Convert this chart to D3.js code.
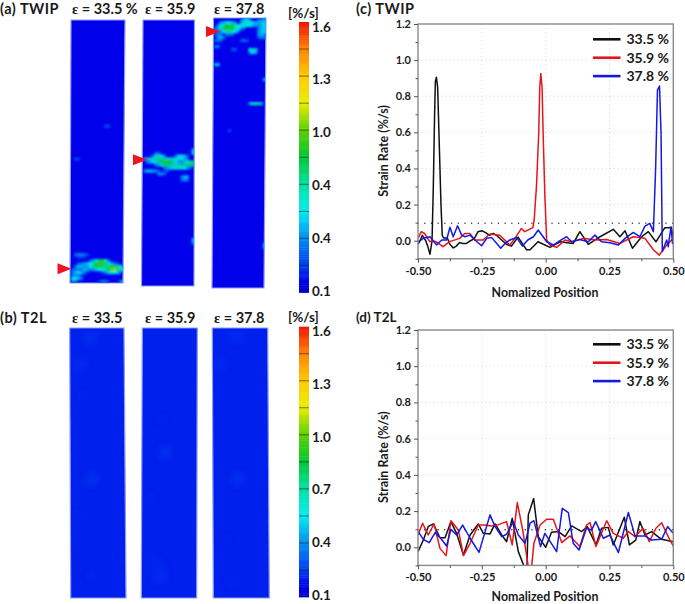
<!DOCTYPE html>
<html>
<head>
<meta charset="utf-8">
<script src="https://cdnjs.cloudflare.com/ajax/libs/d3/7.8.5/d3.min.js"></script>
<style>
  body { margin: 0; background: #fff; }
  text { font-family: Lato, sans-serif; font-weight: 700; fill: #1a1a1a; }
</style>
</head>
<body>
<div id="chart"></div>
<script>
// strain levels, legend and axis labels
const strainLevels = ['33.5 %', '35.9 %', '37.8 %'];
const seriesColors = ['#101010', '#e8141c', '#1418e0'];
const twipHeaders = ['33.5 %', '35.9', '37.8'];
const t2lHeaders = ['33.5', '35.9', '37.8'];
const colorbarTicks = [0.1, 0.4, 0.7, 1.0, 1.3, 1.6];
const twipBarLabels = ['0.1', '0.4', '0.4', '1.0', '1.3', '1.6'];
const t2lBarLabels = ['0.1', '0.4', '0.7', '1.0', '1.3', '1.6'];
const xMajor = [-0.5, -0.25, 0, 0.25, 0.5];
const xMajorLabels = ['-0.50', '-0.25', '0.00', '0.25', '0.50'];
const xMinor = [-0.375, -0.125, 0.125, 0.375];
const yMajor = [0, 0.2, 0.4, 0.6, 0.8, 1.0, 1.2];
const yMajorLabels = ['0.0', '0.2', '0.4', '0.6', '0.8', '1.0', '1.2'];
const yMinor = [-0.1, 0.1, 0.3, 0.5, 0.7, 0.9, 1.1];
const thresholdRate = 0.097;

// colour map stops of the strain rate bar
const colorStopValues = [0.1, 0.15, 0.25, 0.4, 0.55, 0.7, 0.85, 1.0, 1.15, 1.3, 1.45, 1.6];
const colorStopColors = ['#0000c4', '#0000ea', '#0040f0', '#0090f0', '#00eef0', '#00e0a0', '#00c830', '#60d000', '#e8f000', '#ffc800', '#ff8000', '#f01000'];

// (c) TWIP strain rate profiles, [position, rate]
const twipProfile335 = [[-0.5,-0.02],[-0.492,0],[-0.483,0.03],[-0.47,0],[-0.462,-0.03],[-0.453,-0.075],[-0.445,0],[-0.44,0.3],[-0.435,0.7],[-0.432,0.88],[-0.428,0.905],[-0.423,0.85],[-0.418,0.6],[-0.41,0.2],[-0.405,0.03],[-0.4,0.015],[-0.385,0.015],[-0.375,-0.02],[-0.362,-0.04],[-0.35,-0.03],[-0.337,-0.01],[-0.325,-0.015],[-0.31,-0.015],[-0.295,0],[-0.28,0.01],[-0.265,0.05],[-0.25,0.055],[-0.235,0.045],[-0.22,0.03],[-0.205,0.04],[-0.193,0.03],[-0.154,-0.02],[-0.134,-0.03],[-0.108,0.02],[-0.075,-0.05],[-0.061,-0.05],[-0.03,-0.006],[0.017,-0.037],[0.056,-0.006],[0.108,-0.015],[0.134,0.05],[0.167,-0.02],[0.213,0.022],[0.265,0.063],[0.291,0.022],[0.311,0.055],[0.34,-0.042],[0.376,0.022],[0.402,0.05],[0.432,-0.006],[0.467,0.072],[0.493,0.072],[0.5,0.004]];
const twipProfile359 = [[-0.5,0.013],[-0.487,0.05],[-0.474,0.04],[-0.454,-0.005],[-0.43,-0.005],[-0.402,-0.033],[-0.376,-0.005],[-0.337,0.013],[-0.317,0.04],[-0.297,0.04],[-0.278,0.004],[-0.245,0.004],[-0.219,0.037],[-0.18,0.03],[-0.14,-0.024],[-0.12,0.013],[-0.095,0.068],[-0.082,0.05],[-0.05,0.072],[-0.045,0.115],[-0.036,0.3],[-0.027,0.6],[-0.023,0.85],[-0.019,0.926],[-0.014,0.85],[-0.01,0.6],[-0.003,0.245],[0.004,0.004],[0.017,-0.024],[0.043,-0.037],[0.076,0.004],[0.102,-0.006],[0.148,0.013],[0.193,0.004],[0.239,0.007],[0.291,-0.015],[0.343,0.022],[0.389,0.013],[0.422,-0.05],[0.445,-0.08],[0.474,-0.024],[0.5,0.013]];
const twipProfile378 = [[-0.499,-0.006],[-0.479,0.013],[-0.453,0.022],[-0.427,-0.024],[-0.407,0.004],[-0.388,0.004],[-0.375,0.074],[-0.362,0.022],[-0.345,0.083],[-0.329,0.031],[-0.316,0.022],[-0.296,0.031],[-0.277,0.004],[-0.251,-0.028],[-0.231,0.013],[-0.211,0.017],[-0.176,-0.042],[-0.159,-0.015],[-0.14,0.004],[-0.114,0.018],[-0.091,-0.03],[-0.07,0.004],[-0.048,0.022],[-0.029,0.059],[0.004,-0.006],[0.03,-0.024],[0.056,0],[0.082,0.022],[0.102,-0.006],[0.134,0.007],[0.167,-0.006],[0.193,0.031],[0.219,-0.006],[0.252,-0.011],[0.285,-0.024],[0.311,0.013],[0.343,0.046],[0.369,0.022],[0.389,0.081],[0.408,0.096],[0.422,0.05],[0.431,0.41],[0.438,0.834],[0.446,0.856],[0.452,0.594],[0.457,-0.06],[0.474,0.004],[0.48,-0.033],[0.491,0.077],[0.497,-0.015],[0.5,0.04]];

// (d) T2L strain rate profiles, [position, rate]
const t2lProfile335 = [[-0.5,-0.024],[-0.479,0.04],[-0.46,0.114],[-0.44,0.129],[-0.414,0.053],[-0.394,0.053],[-0.371,0.142],[-0.349,0.077],[-0.322,-0.042],[-0.296,0.068],[-0.264,0.129],[-0.244,0.077],[-0.218,0.074],[-0.198,0.129],[-0.172,0.068],[-0.153,0.031],[-0.131,0.16],[-0.107,-0.024],[-0.084,-0.107],[-0.074,-0.16],[-0.068,0.179],[-0.047,0.269],[-0.029,0.059],[0,0],[0.023,0.083],[0.05,0.087],[0.076,0.059],[0.102,0.118],[0.141,0.087],[0.163,0.114],[0.197,0.013],[0.219,0.105],[0.245,0.11],[0.265,0.013],[0.308,0.166],[0.328,0.013],[0.353,0.04],[0.369,0.142],[0.389,0.068],[0.415,0.087],[0.454,0.044],[0.5,0.031]];
const t2lProfile359 = [[-0.5,0.068],[-0.482,0.133],[-0.46,0.068],[-0.437,0.129],[-0.414,-0.006],[-0.39,-0.046],[-0.371,0.147],[-0.342,0.096],[-0.322,-0.046],[-0.296,0.022],[-0.264,0.123],[-0.238,0.123],[-0.212,0.118],[-0.185,0.125],[-0.153,0.142],[-0.131,0.013],[-0.111,0.247],[-0.09,0.096],[-0.068,-0.107],[-0.061,-0.2],[-0.055,-0.107],[-0.046,0.022],[-0.022,0.123],[0.004,0.155],[0.03,0.155],[0.063,0.026],[0.095,0.063],[0.134,0.004],[0.16,0.123],[0.174,0.136],[0.197,0.004],[0.239,0.147],[0.265,0.077],[0.304,0.05],[0.324,0.087],[0.35,0.059],[0.382,0.105],[0.406,0.031],[0.432,0.105],[0.454,0.136],[0.48,0.059],[0.5,0.007]];
const t2lProfile378 = [[-0.5,0.087],[-0.479,0.044],[-0.456,0.026],[-0.433,0.081],[-0.411,0.05],[-0.388,0.007],[-0.371,0.099],[-0.349,0.068],[-0.325,0.123],[-0.296,0.05],[-0.261,-0.028],[-0.218,0.179],[-0.198,0.114],[-0.172,0.059],[-0.153,0.072],[-0.127,0.142],[-0.107,0.068],[-0.081,0.022],[-0.061,0.133],[-0.046,0.147],[-0.02,0.004],[-0.003,0.077],[0.043,-0.024],[0.065,0.215],[0.089,0.192],[0.108,0.022],[0.131,-0.015],[0.16,0.105],[0.18,0.096],[0.196,0.142],[0.226,0.05],[0.252,0.068],[0.285,-0.029],[0.324,0.192],[0.35,0.063],[0.389,0.063],[0.415,0.04],[0.454,0.044],[0.478,0.114],[0.5,0.077]];

// strain rate maps: each entry is [row, first column, rate, rate, ...] on an 18 column grid
const twipMap335 = [
  [35,11,0.26,0.27],[46,1,0.26,0.24],
  [78,1,0.32,0.38,0.38,0.32,0.26],[79,2,0.22,0.22,0.22],
  [80,6,0.28,0.42,0.6,0.78,0.78,0.6,0.35],
  [81,2,0.28,0.35,0.42,0.48,0.58,0.72,0.82,0.92,0.92,0.8,0.66,0.48,0.36,0.24],
  [82,1,0.34,0.46,0.46,0.4,0.42,0.6,0.76,0.88,0.9,0.8,0.72,0.74,0.8,0.82,0.72,0.54,0.36],
  [83,0,0.28,0.34,0.34,0.34,0.46,0.42,0.36,0.42,0.48,0.54,0.6,0.68,0.86,1.0,1.04,0.92,0.74,0.6],
  [84,0,0.34,0.46,0.52,0.46,0.34,0.22],[84,10,0.24,0.36,0.48,0.6,0.6,0.48,0.3],
  [85,0,0.34,0.4,0.34,0.22],[86,0,0.52,0.58,0.46,0.34],
  [87,0,0.36,0.34],[87,9,0.24,0.34,0.34,0.24],[87,16,0.36,0.52]
];
const twipMap359 = [
  [43,17,0.5],[44,4,0.3,0.3],[44,17,0.55],
  [45,3,0.36,0.58,0.64,0.54,0.36],[45,11,0.36,0.58,0.6,0.48,0.3],
  [46,0,0.4,0.46,0.52,0.64,0.7,0.72,0.72,0.66,0.64,0.6,0.6,0.6,0.54,0.54,0.46,0.36],
  [47,1,0.34,0.42,0.54,0.6,0.72,0.82,0.88,0.9,0.84,0.72,0.54,0.42,0.36,0.48,0.6,0.66,0.72],
  [48,4,0.36,0.42,0.6,0.76,0.76,0.72,0.66,0.66,0.66,0.72,0.76,0.76,0.76,0.72],
  [49,7,0.36,0.42,0.48,0.54,0.6,0.6,0.6,0.54,0.42,0.3],
  [50,0,0.36,0.46,0.48,0.46,0.4,0.3],[50,7,0.24,0.3],[51,5,0.4,0.4,0.3],
  [52,13,0.36,0.48,0.46],[53,13,0.3,0.4,0.34],[73,17,0.5],[74,17,0.45]
];
const twipMap378 = [
  [0,9,0.3,0.46,0.52,0.4],[0,15,0.3,0.36,0.46],
  [1,2,0.4,0.46,0.54,0.54,0.46,0.36],[1,9,0.42,0.58,0.64,0.58,0.52,0.46,0.46,0.46,0.52],
  [2,1,0.4,0.58,0.74,0.84,0.88,0.82,0.66,0.6,0.6,0.6,0.6,0.54,0.46,0.4,0.4,0.46,0.58],
  [3,0,0.36,0.42,0.58,0.78,0.88,0.9,0.84,0.66,0.54,0.42,0.3],[3,15,0.36,0.46,0.52],
  [4,1,0.36,0.36,0.54,0.66,0.72,0.66,0.54,0.36],[4,15,0.42,0.46,0.52],
  [5,0,0.3,0.36,0.4],[5,4,0.36,0.36,0.3],[5,15,0.42,0.46,0.4],
  [6,1,0.4,0.46,0.36],[6,15,0.3,0.36,0.36],[7,0,0.3,0.34,0.34],[7,9,0.28,0.34,0.28],
  [9,0,0.34,0.4],[10,6,0.28,0.28],[10,12,0.55,0.72,0.5],[11,12,0.4,0.56,0.44],
  [15,0,0.45,0.5],[20,17,0.5],[28,12,0.44,0.6,0.66,0.66,0.44],[37,5,0.26],[75,17,0.5],[76,17,0.45]
];
const t2lMap335 = [
  [2,5,0.22,0.235,0.235,0.22],[3,5,0.225,0.24,0.24,0.225],[4,5,0.22,0.225,0.225],
  [11,2,0.23,0.245,0.23],[12,2,0.235,0.245,0.23],[13,2,0.23,0.23],[22,3,0.225,0.225],
  [49,6,0.24,0.26,0.24],[50,6,0.24,0.265,0.24],[51,6,0.235,0.245],[62,2,0.225,0.225],[82,6,0.225,0.225,0.225]
];
const t2lMap359 = [
  [30,5,0.22,0.22],[40,6,0.23,0.245,0.23],[41,6,0.245,0.265,0.245],[42,6,0.23,0.245,0.23],
  [56,2,0.225,0.225],[76,2,0.23,0.23,0.23],[79,3,0.23,0.24,0.24,0.23],[82,4,0.23,0.245,0.245,0.23],[83,4,0.23,0.24,0.23]
];
const t2lMap378 = [
  [2,6,0.22,0.235,0.235,0.22],[3,6,0.225,0.24,0.24,0.225],[11,1,0.23,0.245,0.235],[12,1,0.235,0.245,0.23],
  [49,7,0.24,0.26,0.24],[50,7,0.24,0.265,0.24],[51,7,0.235,0.245],[70,3,0.225,0.225],[84,5,0.225,0.23,0.225]
];

// row of the arrow marking the localised band in each TWIP map
const twipBandRows = [83.2, 46.8, 4.5];

const plotX = [418, 673.3];
const legendOffsets = [0, 18.4, 36.8];
const arrowTipX = [71.5, 147, 220];

const svg = d3.select('#chart').append('svg').attr('width', 685).attr('height', 604).style('display', 'block');
const defs = svg.append('defs');
const rateColor = d3.scaleLinear().domain(colorStopValues).range(colorStopColors);

defs.append('filter').attr('id', 'hotBlur').attr('x', '-10%').attr('y', '-10%').attr('width', '120%').attr('height', '120%')
  .append('feGaussianBlur').attr('stdDeviation', 1.3);
defs.append('filter').attr('id', 'softBlur').attr('x', '-10%').attr('y', '-10%').attr('width', '120%').attr('height', '120%')
  .append('feGaussianBlur').attr('stdDeviation', 4);

function addText(x, y, str, size, anchor) {
  return svg.append('text').attr('x', x).attr('y', y).attr('text-anchor', anchor || 'start')
    .attr('font-size', size).text(str);
}

// one strain rate map: base colour plus the non background cells
function drawMap(id, runs, box, baseRate, blurId) {
  const rows = box.rows;
  const xCell = d3.scaleLinear().domain([0, 18]).range([box.x0, box.x1]);
  const yCell = d3.scaleLinear().domain([0, rows]).range([box.top, box.bottom]);
  const outline = [[box.x0, box.top], [box.x1, box.top], [box.x1b, box.bottom], [box.x0b, box.bottom]];
  const pathStr = d3.line()(outline) + 'Z';

  defs.append('clipPath').attr('id', id).append('path').attr('d', pathStr);

  svg.append('path').attr('d', pathStr).attr('fill', rateColor(baseRate))
    .attr('stroke', '#8c9cf4').attr('stroke-width', 1.2);

  const cells = [];
  runs.forEach(function (run) {
    run.slice(2).forEach(function (rate, i) {
      cells.push({ col: run[1] + i, row: run[0], rate: rate });
    });
  });

  svg.append('g').attr('clip-path', `url(#${id})`)
    .append('g').attr('filter', `url(#${blurId})`)
    .selectAll('rect')
    .data(cells)
    .enter()
    .append('rect')
    .attr('x', (d) => xCell(d.col))
    .attr('y', (d) => yCell(d.row))
    .attr('width', xCell(1) - xCell(0) + 0.2)
    .attr('height', yCell(1) - yCell(0) + 0.2)
    .attr('fill', (d) => rateColor(d.rate));

  return yCell;
}

function drawColorbar(top, bottom, labels) {
  const yBar = d3.scaleLinear().domain([0.1, 1.6]).range([bottom, top]);
  // the printed labels sit slightly inside the bar ends
  const yLabel = d3.scaleLinear().domain([0.1, 1.6]).range([bottom - 2.5, top + 4]);
  const steps = d3.range(0.1, 1.6, 0.01);
  const bar = svg.append('g');
  bar.selectAll('rect')
    .data(steps)
    .enter()
    .append('rect')
    .attr('x', 299)
    .attr('y', (d) => yBar(d + 0.01))
    .attr('width', 10)
    .attr('height', (d) => yBar(d) - yBar(d + 0.01) + 0.4)
    .attr('fill', (d) => rateColor(d));

  // dark separators every 0.15
  bar.selectAll('line')
    .data(d3.range(1, 10).map((i) => 0.1 + i * 0.15))
    .enter()
    .append('line')
    .attr('x1', 299)
    .attr('x2', 309)
    .attr('y1', (d) => yBar(d))
    .attr('y2', (d) => yBar(d))
    .attr('stroke', 'rgba(30,20,0,0.55)')
    .attr('stroke-width', 1);

  const axis = d3.axisRight(yLabel).tickValues(colorbarTicks).tickSize(0).tickPadding(0)
    .tickFormat((d, i) => labels[i]);
  const g = svg.append('g').attr('transform', 'translate(312,0)').call(axis);
  g.select('.domain').remove();
  g.attr('font-family', null).attr('font-size', null);
  g.selectAll('text').attr('font-size', 13.5).attr('x', 0).attr('dy', '0.37em');
}

function drawProfile(profiles, top, zeroY, legendY, clipId, titleGap) {
  const perUnit = (zeroY - top) / 1.2;
  const bottom = zeroY + 0.1 * perUnit;
  const x = d3.scaleLinear().domain([-0.5, 0.5]).range(plotX);
  const y = d3.scaleLinear().domain([-0.1, 1.2]).range([bottom, top]);

  // dotted grid
  const grid = svg.append('g').attr('stroke', '#d8d8d8').attr('stroke-width', 1).attr('stroke-dasharray', '1,3');
  grid.selectAll('.gx').data(xMajor.slice(1, -1)).enter().append('line')
    .attr('x1', (d) => x(d)).attr('x2', (d) => x(d)).attr('y1', top).attr('y2', bottom);
  grid.selectAll('.gy').data(yMajor.slice(0, -1)).enter().append('line')
    .attr('x1', plotX[0]).attr('x2', plotX[1]).attr('y1', (d) => y(d)).attr('y2', (d) => y(d));

  // threshold dots
  svg.append('line').attr('x1', x(-0.5)).attr('x2', x(0.5)).attr('y1', y(thresholdRate)).attr('y2', y(thresholdRate))
    .attr('stroke', '#111').attr('stroke-width', 1.3).attr('stroke-linecap', 'round').attr('stroke-dasharray', '0.1,6.6');

  defs.append('clipPath').attr('id', clipId).append('rect')
    .attr('x', plotX[0]).attr('y', top).attr('width', plotX[1] - plotX[0]).attr('height', bottom - top);

  const line = d3.line().x((d) => x(d[0])).y((d) => y(d[1]));
  const traces = svg.append('g').attr('clip-path', `url(#${clipId})`);
  profiles.forEach(function (points, i) {
    traces.append('path').datum(points).attr('d', line).attr('fill', 'none')
      .attr('stroke', seriesColors[i]).attr('stroke-width', 1.5).attr('stroke-linejoin', 'round');
  });

  // frame
  svg.append('rect').attr('x', plotX[0]).attr('y', top).attr('width', plotX[1] - plotX[0]).attr('height', bottom - top)
    .attr('fill', 'none').attr('stroke', '#8a8a8a').attr('stroke-width', 1.4);

  const xAxis = svg.append('g').attr('transform', `translate(0,${bottom})`)
    .call(d3.axisBottom(x).tickValues(xMajor).tickSize(4).tickPadding(4).tickFormat((d, i) => xMajorLabels[i]));
  const xAxisMinor = svg.append('g').attr('transform', `translate(0,${bottom})`)
    .call(d3.axisBottom(x).tickValues(xMinor).tickSize(2.5).tickFormat(''));
  const yAxis = svg.append('g').attr('transform', `translate(${plotX[0]},0)`)
    .call(d3.axisLeft(y).tickValues(yMajor).tickSize(4).tickPadding(3).tickFormat((d, i) => yMajorLabels[i]));
  const yAxisMinor = svg.append('g').attr('transform', `translate(${plotX[0]},0)`)
    .call(d3.axisLeft(y).tickValues(yMinor).tickSize(2.5).tickFormat(''));
  [xAxis, xAxisMinor, yAxis, yAxisMinor].forEach(function (g) {
    g.attr('font-family', null).attr('font-size', null);
    g.select('.domain').remove();
    g.selectAll('line').attr('stroke', '#555').attr('stroke-width', 1);
    g.selectAll('text').attr('font-size', 11);
  });

  svg.append('text').attr('transform', `translate(387.5,${(top + bottom) / 2 + 9.5}) rotate(-90)`)
    .attr('text-anchor', 'middle').attr('font-size', 12.5).text('Strain Rate (%/s)');
  addText(545, bottom + titleGap, 'Nomalized Position', 12.4, 'middle');

  strainLevels.forEach(function (label, i) {
    const ly = legendY + legendOffsets[i];
    svg.append('line').attr('x1', 593).attr('x2', 620.5).attr('y1', ly).attr('y2', ly)
      .attr('stroke', seriesColors[i]).attr('stroke-width', 2.6);
    addText(626.5, ly + 5, label, 14);
  });
}

// (a) TWIP maps
const twipBoxes = [
  { x0: 71, x1: 125, x0b: 70, x1b: 123, top: 20, bottom: 283, rows: 88 },
  { x0: 143, x1: 194.5, x0b: 141.5, x1b: 194, top: 20, bottom: 286, rows: 89 },
  { x0: 213.5, x1: 266, x0b: 212, x1b: 264, top: 18, bottom: 288, rows: 90 }
];
[twipMap335, twipMap359, twipMap378].forEach(function (runs, i) {
  const box = twipBoxes[i];
  const yCell = drawMap(`twipClip${i}`, runs, box, 0.15, 'hotBlur');
  const tipY = yCell(twipBandRows[i]);
  const tipX = arrowTipX[i];
  const arrow = d3.path();
  arrow.moveTo(tipX, tipY);
  arrow.lineTo(tipX - 14, tipY - 5.5);
  arrow.lineTo(tipX - 14, tipY + 5.5);
  arrow.closePath();
  svg.append('path').attr('d', arrow.toString()).attr('fill', '#f01420');
});

// (b) T2L maps
const t2lBoxes = [
  { x0: 69.7, x1: 124, x0b: 70.7, x1b: 126, top: 328, bottom: 598, rows: 90 },
  { x0: 142.3, x1: 197.3, x0b: 141.3, x1b: 196.7, top: 328, bottom: 598, rows: 90 },
  { x0: 212.3, x1: 267.7, x0b: 213.3, x1b: 269.3, top: 328, bottom: 598, rows: 90 }
];
[t2lMap335, t2lMap359, t2lMap378].forEach(function (runs, i) {
  drawMap(`t2lClip${i}`, runs, t2lBoxes[i], 0.2, 'softBlur');
});

drawColorbar(22, 292.5, twipBarLabels);
drawColorbar(326.7, 597, t2lBarLabels);

drawProfile([twipProfile335, twipProfile359, twipProfile378], 24, 240.7, 39.3, 'plotClipC', 38);
drawProfile([t2lProfile335, t2lProfile359, t2lProfile378], 330, 547.3, 344.3, 'plotClipD', 36);

// panel titles and column headers
addText(0, 14, '(a) TWIP', 14.5).attr('letter-spacing', 0.5);
addText(0, 323, '(b) T2L', 14.5).attr('letter-spacing', 0.5);
addText(356, 14, '(c) TWIP', 14.5).attr('letter-spacing', 0.5);
addText(356, 322, '(d) T2L', 13.5);
addText(288, 18, '[%/s]', 13.5);
addText(288, 322, '[%/s]', 13.5);

function addHeader(x, y, value) {
  const t = addText(x, y, null, 14.5);
  t.append('tspan').style('font-family', '"Liberation Serif", serif').text('ε');
  t.append('tspan').text(` = ${value}`);
}
[72, 145, 214].forEach(function (x, i) {
  addHeader(x, 14, twipHeaders[i]);
  addHeader(x, 323, t2lHeaders[i]);
});
</script>
</body>
</html>
